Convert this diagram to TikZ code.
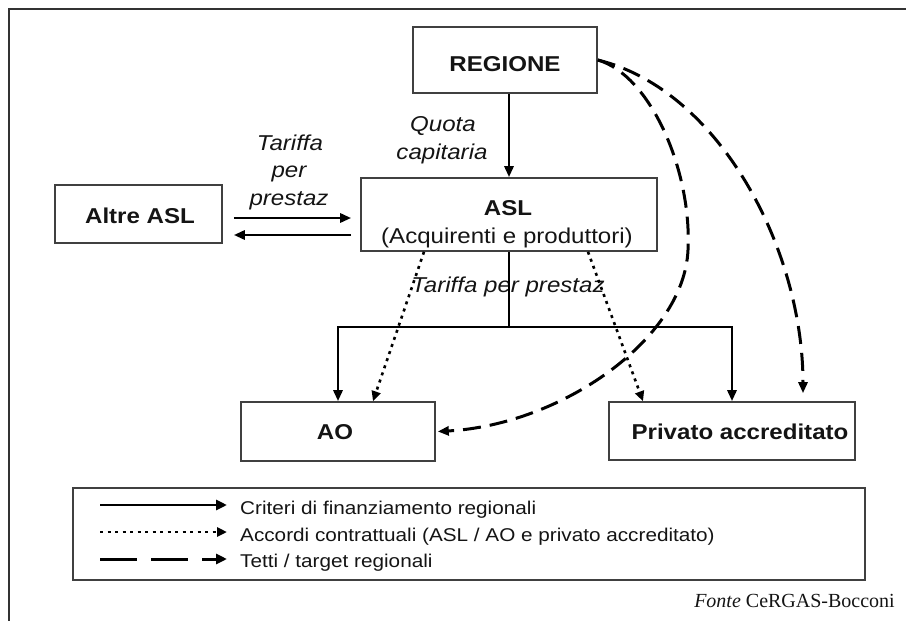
\documentclass[tikz,border=0pt]{standalone}
\usepackage{fontspec}
\setmainfont{Liberation Sans}[FakeStretch=1.12]
\newfontfamily\timesfont{Liberation Serif}
\usetikzlibrary{arrows.meta}

\begin{document}
\begin{tikzpicture}[x=1pt,y=-1pt,
  box/.style={draw=black!75, line width=1.6pt, rectangle, inner sep=0pt},
  txt/.style={inner sep=0pt, anchor=base, text=black!92},
  big/.style={font=\fontsize{21.5}{25}\selectfont},
  bigb/.style={font=\fontsize{21.5}{25}\selectfont\bfseries},
  bigi/.style={font=\fontsize{21.5}{25}\selectfont\itshape},
  small/.style={font=\fontsize{18.5}{22}\selectfont},
  flow/.style={line width=2.8pt, -{Triangle[length=11pt,width=9pt]}},
  dotflow/.style={line width=2.6pt, dash pattern=on 3pt off 4.5pt, -{Triangle[length=10pt,width=9pt]}},
  dashflow/.style={line width=3pt, dash pattern=on 18pt off 9pt, -{Triangle[length=11pt,width=9pt]}},
  legdash/.style={line width=3pt, dash pattern=on 37pt off 14pt, -{Triangle[length=11pt,width=10pt]}}
]
\useasboundingbox (0,0) rectangle (906,621);

% frame
\draw[line width=2.2pt, black!80] (9,621) -- (9,9) -- (906,9);

% boxes
\node[box, minimum width=184pt, minimum height=66pt] (reg) at (505,60) {};
\node[box, minimum width=296pt, minimum height=73pt] (asl) at (509,214.5) {};
\node[box, minimum width=167pt, minimum height=58pt] (altre) at (138.5,214) {};
\node[box, minimum width=194pt, minimum height=59pt] (ao) at (338,431.5) {};
\node[box, minimum width=246pt, minimum height=58pt] (priv) at (732,431) {};

% box texts
\node[txt, bigb] (regT) at (505,71) {REGIONE};
\node[txt, bigb] (aslT) at (508,215) {ASL};
\node[txt, big] (aslS) at (507,243) {(Acquirenti e produttori)};
\node[txt, bigb] (altreT) at (140,223) {Altre ASL};
\node[txt, bigb] (aoT) at (335,439) {AO};
\node[txt, bigb] (privT) at (740,439) {Privato accreditato};

% labels
\node[txt, bigi] (q1) at (443,131) {Quota};
\node[txt, bigi] (q2) at (442,159) {capitaria};
\node[txt, bigi] (t1) at (290,150) {Tariffa};
\node[txt, bigi] (t2) at (289,177) {per};
\node[txt, bigi] (t3) at (289,205) {prestaz};
\node[txt, bigi] (t4) at (508,292) {Tariffa per prestaz};

% solid flows
\draw[flow] (asl.north |- reg.south) -- (asl.north);
\draw[flow, shorten <=11pt, shorten >=9pt] ([yshift=-4pt]altre.east) -- ([yshift=-4pt]altre.east -| asl.west);
\draw[flow, shorten <=9pt, shorten >=11pt] ([yshift=-21pt]altre.east -| asl.west) -- ([yshift=-21pt]altre.east);
\coordinate (split) at (509,327);
\draw[line width=2.8pt] (asl.south) -- (split);
\draw[flow] (split) -| (ao.north);
\draw[flow] (split) -| (priv.north);

% contracts (dotted)
\draw[dotflow] ([xshift=-85pt]asl.south) -- ([xshift=35pt]ao.north);
\draw[dotflow] ([xshift=79pt]asl.south) -- ([xshift=-89pt]priv.north);

% regional caps (dashed)
\draw[dashflow] (reg.east) .. controls (720,90) and (803,250) .. ([xshift=71pt,yshift=8pt]priv.north);
\draw[dashflow] (reg.east) .. controls (650,75) and (692,170) .. (688,250)
  .. controls (684,340) and (560,425) .. ([xshift=2pt]ao.east);

% legend
\node[box, minimum width=792pt, minimum height=92pt] (leg) at (469,534) {};
\coordinate (l1a) at (100,505); \coordinate (l1b) at (227,505);
\coordinate (l2a) at (100,532); \coordinate (l2b) at (227,532);
\coordinate (l3a) at (100,559); \coordinate (l3b) at (227,559);
\draw[flow, -{Triangle[length=11pt,width=10pt]}] (l1a) -- (l1b);
\draw[dotflow] (l2a) -- (l2b);
\draw[legdash] (l3a) -- (l3b);
\node[txt, small, anchor=base west] (lt1) at (240,514) {Criteri di finanziamento regionali};
\node[txt, small, anchor=base west] (lt2) at (240,541) {Accordi contrattuali (ASL / AO e privato accreditato)};
\node[txt, small, anchor=base west] (lt3) at (240,567) {Tetti / target regionali};

% source
\node[txt, anchor=base east, font=\timesfont\fontsize{20}{24}\selectfont] (src) at (895,607) {\textit{Fonte} CeRGAS-Bocconi};
\end{tikzpicture}
\end{document}
